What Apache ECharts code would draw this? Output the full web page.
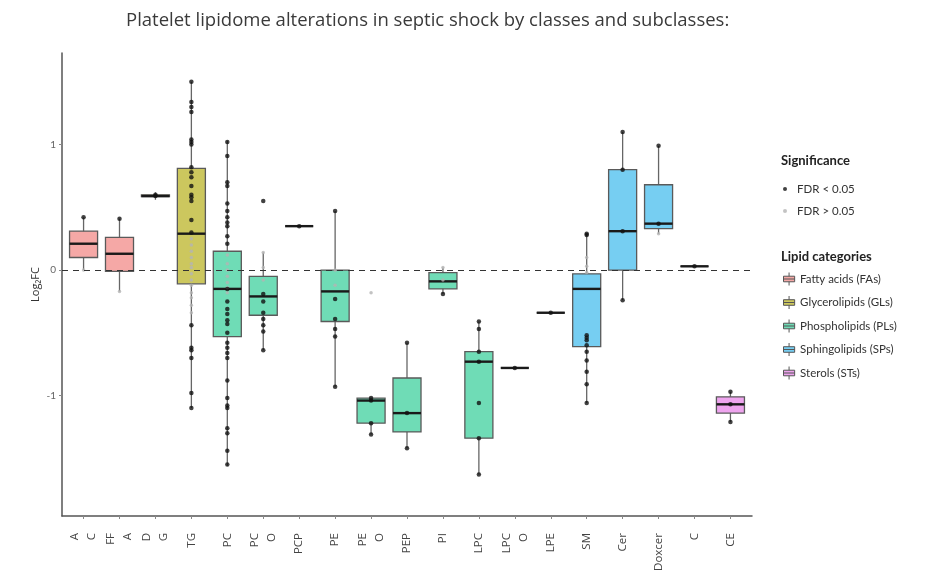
<!DOCTYPE html>
<html>
<head>
<meta charset="utf-8">
<script src="https://cdn.jsdelivr.net/npm/echarts@6/dist/echarts.min.js"></script>
<style>
html,body{margin:0;padding:0;background:#fff;}
#chart{width:929px;height:575px;}
</style>
</head>
<body>
<div id="chart"></div>
<script>
// ---- data ----
const categories = ['A\nC','FF\nA','D\nG','TG','PC','PC\nO','PCP','PE','PE\nO','PEP','PI','LPC','LPC\nO','LPE','SM','Cer','Doxcer','C','CE'];
const lipidGroup = [0,0,1,1,2,2,2,2,2,2,2,2,2,2,3,3,3,4,4];
const groupNames = ['Fatty acids (FAs)','Glycerolipids (GLs)','Phospholipids (PLs)','Sphingolipids (SPs)','Sterols (STs)'];

const whiskerLow  = [0.00,-0.17,0.56,-1.10,-1.56,-0.64,0.35,-0.93,-1.31,-1.42,-0.19,-1.63,-0.78,-0.34,-1.06,-0.24,0.29,0.03,-1.21];
const q1          = [0.10,-0.01,0.585,-0.11,-0.53,-0.36,0.35,-0.41,-1.22,-1.29,-0.15,-1.34,-0.78,-0.34,-0.61,0.00,0.33,0.03,-1.14];
const median      = [0.21,0.13,0.59,0.29,-0.15,-0.21,0.35,-0.17,-1.04,-1.14,-0.09,-0.73,-0.78,-0.34,-0.15,0.31,0.37,0.03,-1.07];
const q3          = [0.31,0.26,0.60,0.81,0.15,-0.05,0.35,0.00,-1.02,-0.86,-0.02,-0.65,-0.78,-0.34,-0.03,0.80,0.68,0.03,-1.01];
const whiskerHigh = [0.42,0.41,0.62,1.50,1.03,0.14,0.35,0.47,-1.02,-0.58,0.02,-0.41,-0.78,-0.34,0.29,1.10,0.99,0.03,-0.97];

// individual lipid species, FDR < 0.05
const fdrSig = [
  [0.42],
  [0.41],
  [0.59,0.60],
  [1.50,1.34,1.30,1.26,1.04,1.02,1.00,0.82,0.78,0.74,0.67,0.60,0.58,0.55,0.40,0.30,-0.44,-0.62,-0.64,-0.70,-0.98,-1.10],
  [1.02,0.91,0.70,0.67,0.53,0.47,0.42,0.38,0.35,0.27,0.21,-0.15,-0.25,-0.31,-0.35,-0.40,-0.43,-0.50,-0.58,-0.62,-0.66,-0.70,-0.88,-1.02,-1.08,-1.10,-1.26,-1.30,-1.44,-1.55],
  [0.55,-0.19,-0.25,-0.34,-0.39,-0.44,-0.49,-0.64],
  [0.35],
  [0.47,-0.23,-0.39,-0.47,-0.53,-0.93],
  [-1.02,-1.04,-1.22,-1.31],
  [-0.58,-1.14,-1.42],
  [-0.19],
  [-0.41,-0.47,-0.65,-0.73,-1.06,-1.34,-1.63],
  [-0.78],
  [-0.34],
  [0.29,0.28,-0.52,-0.54,-0.56,-0.60,-0.65,-0.72,-0.81,-0.91,-1.06],
  [1.10,0.80,0.31,-0.24],
  [0.99,0.37],
  [0.03],
  [-0.97,-1.07,-1.21]
];
// FDR > 0.05
const fdrNonSig = [
  [0.00],
  [-0.17],
  [],
  [0.25,0.20,0.15,0.10,0.05,0.02,-0.03,-0.08,-0.12,-0.18,-0.22,-0.28,-0.34],
  [0.12,0.05,0.00,-0.05,-0.10,-0.14,-0.18],
  [0.14,0.02,-0.08],
  [],
  [0.00,-0.12],
  [-0.18],
  [],
  [0.02,-0.08],
  [],
  [],
  [],
  [0.10,0.03,-0.02],
  [],
  [0.29],
  [],
  []
];
const yTicks = [-1, 0, 1];

// ---- styles ----
const groupColors = ['#F5A8A6','#CCC75E','#6FDCB6','#76CEF2','#EEA4EE'];
const FONT = 'Lato';
const FONT2 = 'Open Sans';

// ---- build ----
const boxSeries = groupNames.map((name, g) => ({
  name: name,
  type: 'custom',
  itemStyle: { color: groupColors[g] },
  encode: { x: 0, y: [1,2,3,4,5] },
  z: 2,
  data: categories.map((c, i) => i).filter(i => lipidGroup[i] === g)
    .map(i => [i, whiskerLow[i], q1[i], median[i], q3[i], whiskerHigh[i]]),
  renderItem: function (params, api) {
    const x = api.value(0);
    const lo = api.coord([x, api.value(1)]);
    const b1 = api.coord([x, api.value(2)]);
    const md = api.coord([x, api.value(3)]);
    const b3 = api.coord([x, api.value(4)]);
    const hi = api.coord([x, api.value(5)]);
    const w = api.size([0.78, 0])[0];
    return {
      type: 'group',
      children: [
        { type: 'line', shape: { x1: lo[0], y1: lo[1], x2: hi[0], y2: hi[1] },
          style: { stroke: '#666', lineWidth: 1.3 } },
        { type: 'rect', shape: { x: md[0] - w / 2, y: b3[1], width: w, height: b1[1] - b3[1] },
          style: { fill: api.visual('color'), stroke: '#5a5a5a', lineWidth: 1.3 } },
        { type: 'line', shape: { x1: md[0] - w / 2, y1: md[1], x2: md[0] + w / 2, y2: md[1] },
          style: { stroke: '#1a1a1a', lineWidth: 2.4 } }
      ]
    };
  }
}));

const sigData = [];
fdrSig.forEach((arr, i) => arr.forEach(v => sigData.push([i, v])));
const nonSigData = [];
fdrNonSig.forEach((arr, i) => arr.forEach(v => nonSigData.push([i, v])));

const boxIcon = 'path://M0,4 L12,4 L12,10 L0,10 Z M0,7 L12,7 M6,0 L6,4 M6,10 L6,14';

const option = {
  animation: false,
  backgroundColor: '#fff',
  textStyle: { fontFamily: FONT },
  title: [
    { text: 'Platelet lipidome alterations in septic shock by classes and subclasses:',
      left: 121, top: 6,
      textStyle: { fontFamily: FONT2, fontSize: 18.5, fontWeight: 'normal', color: '#3a3a3a' } },
    { text: 'Significance', left: 776, top: 149,
      textStyle: { fontFamily: FONT, fontSize: 13, fontWeight: 'bold', color: '#222' } },
    { text: 'Lipid categories', left: 776, top: 245,
      textStyle: { fontFamily: FONT, fontSize: 13, fontWeight: 'bold', color: '#222' } }
  ],
  legend: [
    { orient: 'vertical', left: 778, top: 178, itemGap: 10,
      itemWidth: 14, itemHeight: 4, icon: 'circle',
      data: ['FDR < 0.05', 'FDR > 0.05'],
      textStyle: { fontFamily: FONT, fontSize: 11.5, color: '#333' } },
    { orient: 'vertical', left: 778, top: 267, itemGap: 9.5,
      itemWidth: 12, itemHeight: 13, icon: boxIcon,
      itemStyle: { borderColor: '#555', borderWidth: 1 },
      data: groupNames,
      textStyle: { fontFamily: FONT, fontSize: 11.5, color: '#333' } }
  ],
  grid: { left: 62, right: 177, top: 53, bottom: 59, containLabel: false },
  xAxis: {
    type: 'value', min: -0.6, max: 18.6,
    splitLine: { show: false },
    axisLine: { show: true, onZero: false, lineStyle: { color: '#555', width: 1.5 } },
    axisTick: { show: true, customValues: categories.map((c, i) => i), length: 3, lineStyle: { color: '#888' } },
    axisLabel: { customValues: categories.map((c, i) => i), rotate: 90, margin: 17,
      formatter: v => categories[Math.round(v)],
      fontFamily: FONT2, fontSize: 11.5, color: '#444', lineHeight: 17 }
  },
  yAxis: {
    type: 'value', min: -1.96, max: 1.73,
    name: 'Log\u2082FC', nameLocation: 'middle', nameGap: 21, nameRotate: 90,
    nameMoveOverlap: false,
    nameTextStyle: { fontFamily: FONT2, fontSize: 11, color: '#333' },
    splitLine: { show: false },
    axisLine: { show: true, onZero: false, lineStyle: { color: '#555', width: 1.5 } },
    axisTick: { show: true, customValues: yTicks, length: 3, lineStyle: { color: '#888' } },
    axisLabel: { customValues: yTicks, fontFamily: FONT, fontSize: 10, color: '#666', margin: 6 }
  },
  series: boxSeries.concat([
    { name: 'FDR > 0.05', type: 'scatter', z: 4, symbolSize: 3.5,
      itemStyle: { color: '#b4b4b4' }, data: nonSigData,
      markLine: { silent: true, symbol: ['none','none'], label: { show: false },
        lineStyle: { color: '#333', type: [6, 5], width: 1.2 },
        data: [{ yAxis: 0 }] } },
    { name: 'FDR < 0.05', type: 'scatter', z: 5, symbolSize: 4.5,
      itemStyle: { color: '#111' }, data: sigData }
  ])
};

const chart = echarts.init(document.getElementById('chart'), null, { renderer: 'canvas' });
chart.setOption(option);
</script>
</body>
</html>
